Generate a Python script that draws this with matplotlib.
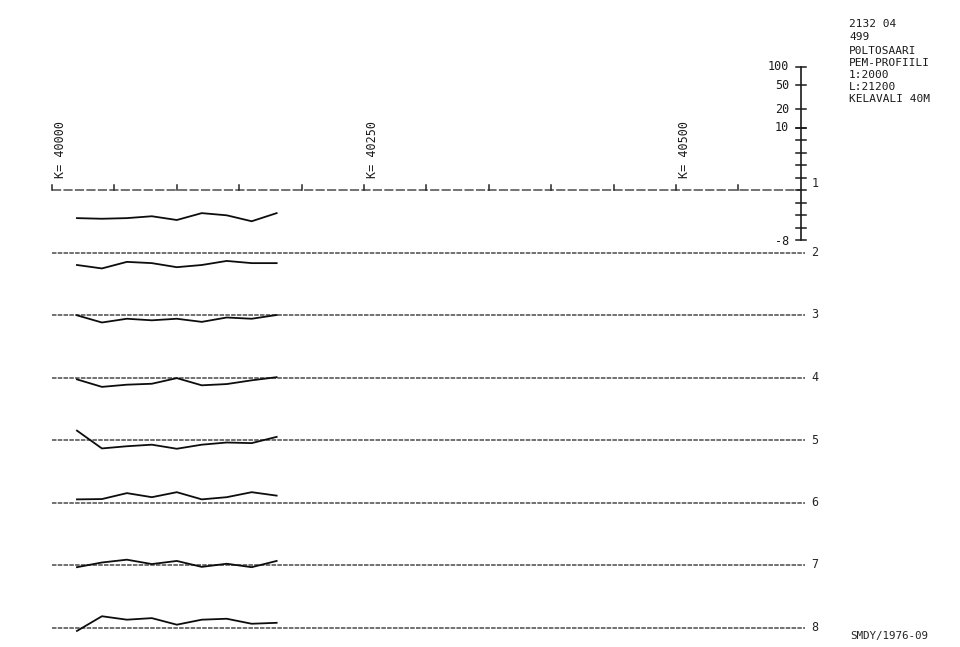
import matplotlib
matplotlib.use("Agg")
import matplotlib.pyplot as plt
import matplotlib.transforms as mtransforms
import numpy as np

# ---------------- data ----------------
stations = [40020, 40040, 40060, 40080, 40100, 40120, 40140, 40160, 40180]
ch1 = [-4.5, -4.6, -4.5, -4.2, -4.8, -3.7, -4.05, -5.0, -3.7]
ch2 = [-2.0, -2.55, -1.5, -1.7, -2.35, -2.0, -1.35, -1.7, -1.7]
ch3 = [-0.05, -1.2, -0.6, -0.85, -0.6, -1.1, -0.4, -0.6, 0.0]
ch4 = [-0.3, -1.5, -1.15, -1.0, -0.1, -1.25, -1.05, -0.45, 0.05]
ch5 = [1.5, -1.35, -1.0, -0.75, -1.4, -0.75, -0.4, -0.5, 0.5]
ch6 = [0.5, 0.55, 1.5, 0.85, 1.65, 0.5, 0.85, 1.65, 1.1]
ch7 = [-0.35, 0.4, 0.85, 0.15, 0.65, -0.3, 0.2, -0.35, 0.65]
ch8 = [-0.55, 1.8, 1.25, 1.5, 0.45, 1.25, 1.4, 0.6, 0.75]
channels = [ch1, ch2, ch3, ch4, ch5, ch6, ch7, ch8]
channel_labels = ["1", "2", "3", "4", "5", "6", "7", "8"]

k_ticks = list(range(40000, 40551, 50))
k_labels = [40000, 40250, 40500]
scale_log_values = [100, 50, 20, 10]
scale_lin_ticks = [10, 8, 6, 4, 2, 0, -2, -4, -6, -8]
header_lines = ["2132 04", "499", "P0LTOSAARI", "PEM-PROFIILI",
                "1:2000", "L:21200", "KELAVALI 40M"]
footer = "SMDY/1976-09"

# ---------------- figure ----------------
W, H = 960, 647
fig = plt.figure(figsize=(W / 100, H / 100), dpi=100)
ax = fig.add_axes([0, 0, 1, 1])
ax.set_axis_off()

m_per_px = 250 / 312
u_per_px = 1 / 6.25
x0_px, y0_px = 52, 190
ax.set_xlim(40000 - x0_px * m_per_px, 40000 + (W - x0_px) * m_per_px)
ax.set_ylim(-(H - y0_px) * u_per_px, y0_px * u_per_px)

blend = mtransforms.blended_transform_factory(ax.transAxes, ax.transData)
mono = "DejaVu Sans Mono"
spacing = 10.0
x_end = 40000 + (805 - x0_px) * m_per_px

# baselines
for i in range(len(channels)):
    base = -spacing * i
    if i == 0:
        ax.plot([40000, 40000 + (800 - x0_px) * m_per_px], [base, base],
                color="0.3", lw=1.1, ls=(0, (6, 1.5)))
    else:
        ax.plot([40000, x_end], [base, base], color="0.4", lw=1.3, ls=(0, (2.5, 0.7)))

# station ticks on channel 1 line
for k in k_ticks:
    ax.plot([k, k], [0, 0.85], color="0.15", lw=1.1)

# K labels
for k in k_labels:
    ax.text(k + 8 * m_per_px, 2.0, f"K= {k}", rotation=90, ha="center", va="bottom",
            family=mono, fontsize=8.5, color="0.1")

# profiles
for i, vals in enumerate(channels):
    base = -spacing * i
    ax.plot(stations, [base + v for v in vals], color="0.05", lw=1.3)

# channel labels
label_offsets = [1.1, 0, 0, 0, 0, 0, 0, 0]
for i, lab in enumerate(channel_labels):
    ax.text(815 / W, -spacing * i + label_offsets[i], lab, transform=blend,
            ha="center", va="center", family=mono, fontsize=8.5, color="0.15")

# vertical scale
sx = 801 / W
tw = 5 / W


def log_pos(v):
    return 10 + 9.7 * np.log10(v / 10)


top = log_pos(max(scale_log_values))
ax.plot([sx, sx], [top, min(scale_lin_ticks)], transform=blend, color="0.1", lw=1.2)
for v in scale_log_values:
    y = log_pos(v)
    ax.plot([sx - tw, sx + tw], [y, y], transform=blend, color="0.1", lw=1.1)
    ax.text(789 / W, y, str(v), transform=blend, ha="right", va="center",
            family=mono, fontsize=8.5, color="0.1")
for v in scale_lin_ticks:
    ax.plot([sx - tw, sx + tw], [v, v], transform=blend, color="0.1", lw=1.1)
ax.text(789 / W, min(scale_lin_ticks) - 0.3, str(min(scale_lin_ticks)), transform=blend,
        ha="right", va="center", family=mono, fontsize=8.5, color="0.1")

# header text
header_y = [24, 36.5, 50.5, 62.5, 74.5, 87, 99.5]
for line, yp in zip(header_lines, header_y):
    fig.text(849 / W, 1 - yp / H, line, ha="left", va="center",
             family=mono, fontsize=8, color="0.1")
fig.text(850 / W, 1 - 636 / H, footer, ha="left", va="center",
         family=mono, fontsize=7.8, color="0.15")

fig.savefig("out.png", dpi=100, facecolor="white")
